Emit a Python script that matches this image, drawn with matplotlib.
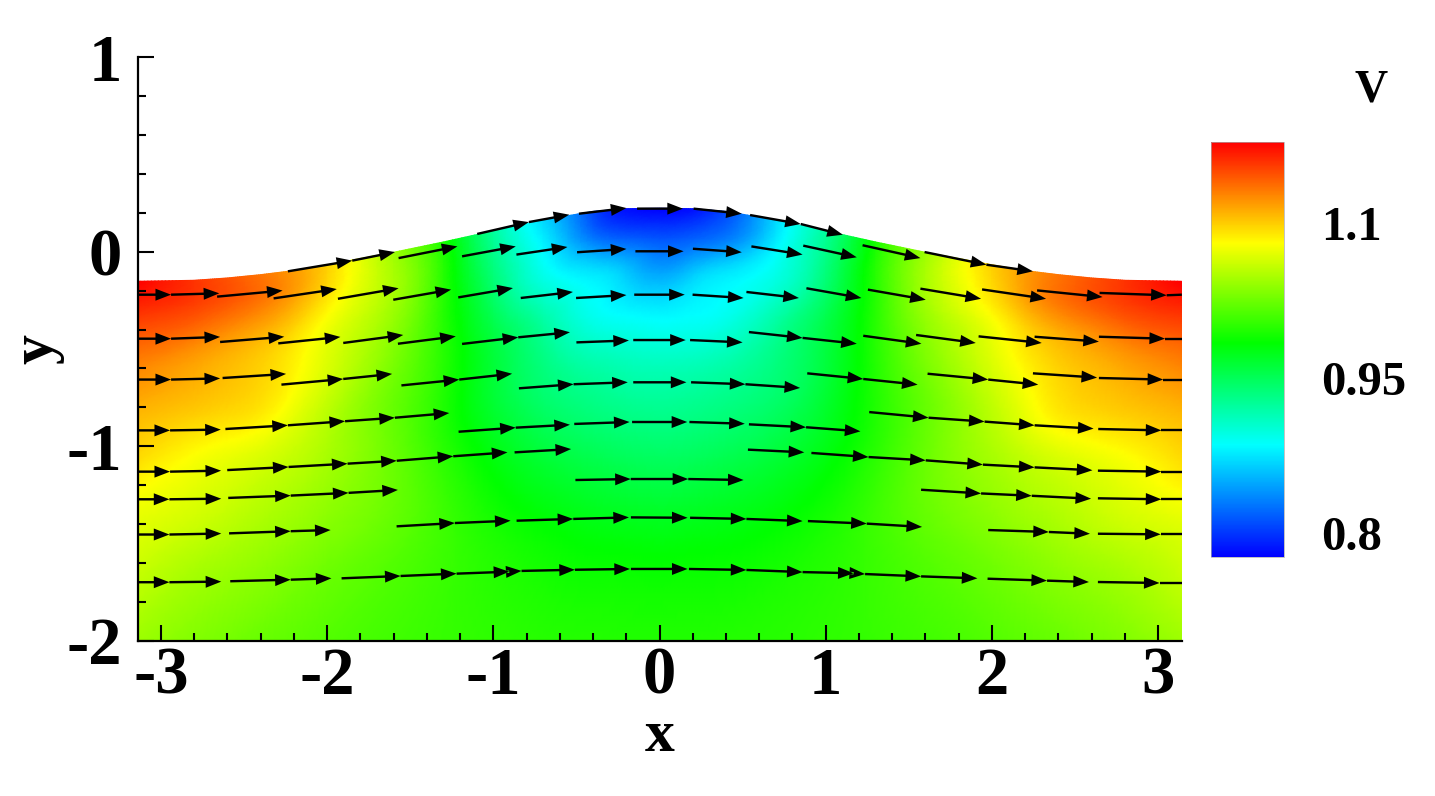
"""Free-surface velocity field: V contours with streamwise arrows."""
import numpy as np
import matplotlib
matplotlib.use("Agg")
import matplotlib.pyplot as plt
import matplotlib.tri as mtri
from matplotlib.colors import LinearSegmentedColormap, Normalize
from matplotlib.ticker import MultipleLocator
from matplotlib.transforms import ScaledTranslation

plt.rcParams["font.family"] = ["Liberation Serif", "DejaVu Serif"]
plt.rcParams["font.weight"] = "bold"
plt.rcParams["axes.unicode_minus"] = False

# columns from the left edge to the crest, the field is mirrored about x = 0
X_HALF = [-3.141, -2.8, -2.6, -2.4, -2.2, -2.0, -1.6, -1.3, -1.0, -0.7, -0.4, -0.2, 0.0]
SURFACE_HALF = [-0.152, -0.147, -0.135, -0.118, -0.097, -0.067, -0.003, 0.050, 0.107, 0.163, 0.207, 0.221, 0.223]
DEPTH = [0.0, 0.2, 0.35, 0.5, 0.62, 0.75, 0.85, 0.93, 1.0]   # fraction of local column height

V_BOTTOM = [1.045, 1.035, 1.030, 1.025, 1.021, 1.017, 1.010, 1.006, 1.003, 1.000, 0.999, 0.998, 0.998]
V_020 = [1.062, 1.050, 1.045, 1.040, 1.034, 1.028, 1.017, 1.008, 0.999, 0.992, 0.987, 0.986, 0.985]
V_035 = [1.074, 1.066, 1.060, 1.053, 1.047, 1.040, 1.025, 1.008, 0.990, 0.977, 0.968, 0.964, 0.962]
V_050 = [1.095, 1.080, 1.074, 1.068, 1.060, 1.050, 1.025, 1.000, 0.975, 0.955, 0.943, 0.938, 0.936]
V_062 = [1.108, 1.100, 1.096, 1.090, 1.075, 1.058, 1.025, 0.998, 0.965, 0.940, 0.925, 0.919, 0.917]
V_075 = [1.127, 1.115, 1.108, 1.100, 1.087, 1.070, 1.035, 1.000, 0.960, 0.925, 0.895, 0.888, 0.885]
V_085 = [1.146, 1.135, 1.125, 1.115, 1.100, 1.080, 1.045, 1.000, 0.945, 0.900, 0.880, 0.865, 0.850]
V_093 = [1.165, 1.155, 1.146, 1.135, 1.118, 1.095, 1.050, 1.000, 0.935, 0.885, 0.835, 0.820, 0.815]
V_SURFACE = [1.180, 1.160, 1.148, 1.135, 1.120, 1.100, 1.045, 0.995, 0.925, 0.872, 0.810, 0.785, 0.780]

V_MIN, V_MAX = 0.779, 1.18
CBAR_TICKS = [0.8, 0.95, 1.1]
CBAR_LABELS = ["0.8", "0.95", "1.1"]
CMAP_STOPS = [(0.0, "#0000ff"), (0.27, "#00ffff"), (0.516, "#00ff00"), (0.757, "#ffff00"), (1.0, "#ff0000")]

# streamtrace pieces, one arrow per consecutive pair of points
ROW_A = [
    [(-2.236, -0.101), (-1.849, -0.046), (-1.592, -0.002)],
    [(-1.097, 0.091), (-0.786, 0.152), (-0.543, 0.190)],
    [(-0.485, 0.195), (-0.199, 0.224)],
    [(-0.135, 0.221), (0.141, 0.221)],
    [(0.205, 0.221), (0.495, 0.195)],
    [(0.545, 0.188), (0.850, 0.142), (1.103, 0.087)],
    [(1.595, -0.002), (1.967, -0.067), (2.247, -0.101)],
]
ROW_B = [
    [(-1.570, -0.033), (-1.216, 0.027)],
    [(-1.188, -0.024), (-0.865, 0.027)],
    [(-0.861, -0.015), (-0.554, 0.024)],
    [(-0.496, -0.003), (-0.199, 0.014)],
    [(-0.145, 0.002), (0.145, 0.002)],
    [(0.201, 0.015), (0.495, -0.003)],
    [(0.553, 0.027), (0.861, -0.015)],
    [(0.865, 0.031), (1.187, -0.029)],
    [(1.222, 0.033), (1.570, -0.033)],
]
ROW_C = [
    [(-3.143, -0.221), (-2.939, -0.221), (-2.649, -0.214)],
    [(-2.662, -0.231), (-2.268, -0.200)],
    [(-2.322, -0.240), (-1.942, -0.192)],
    [(-1.935, -0.242), (-1.570, -0.188)],
    [(-1.602, -0.247), (-1.254, -0.195)],
    [(-1.211, -0.235), (-0.882, -0.187)],
    [(-0.835, -0.238), (-0.521, -0.207)],
    [(-0.502, -0.238), (-0.199, -0.223)],
    [(-0.152, -0.221), (0.152, -0.221)],
    [(0.199, -0.221), (0.506, -0.238)],
    [(0.523, -0.207), (0.839, -0.238)],
    [(0.884, -0.188), (1.215, -0.238)],
    [(1.254, -0.195), (1.602, -0.247)],
    [(1.570, -0.190), (1.935, -0.242)],
    [(1.941, -0.194), (2.326, -0.242)],
    [(2.272, -0.199), (2.666, -0.233)],
    [(2.648, -0.212), (3.052, -0.224), (3.143, -0.221)],
]
ROW_D = [
    [(-3.143, -0.447), (-2.939, -0.447), (-2.644, -0.438)],
    [(-2.644, -0.464), (-2.258, -0.437)],
    [(-2.294, -0.471), (-1.920, -0.438)],
    [(-1.903, -0.469), (-1.542, -0.428)],
    [(-1.574, -0.473), (-1.226, -0.435)],
    [(-1.188, -0.474), (-0.850, -0.440), (-0.539, -0.414)],
    [(-0.500, -0.466), (-0.184, -0.456)],
    [(-0.158, -0.454), (0.158, -0.454)],
    [(0.184, -0.454), (0.500, -0.466)],
    [(0.538, -0.413), (0.861, -0.443), (1.187, -0.473)],
    [(1.226, -0.432), (1.576, -0.473)],
    [(1.544, -0.428), (1.903, -0.469)],
    [(1.920, -0.435), (2.300, -0.469)],
    [(2.257, -0.437), (2.644, -0.462)],
    [(2.644, -0.437), (3.042, -0.447), (3.143, -0.447)],
]
ROW_E = [
    [(-3.143, -0.657), (-2.939, -0.657), (-2.644, -0.651)],
    [(-2.629, -0.649), (-2.247, -0.628)],
    [(-2.275, -0.683), (-1.903, -0.654), (-1.609, -0.628)],
    [(-1.553, -0.687), (-1.205, -0.657), (-0.887, -0.627)],
    [(-0.846, -0.702), (-0.517, -0.681), (-0.191, -0.671)],
    [(-0.158, -0.671), (0.162, -0.671)],
    [(0.190, -0.671), (0.517, -0.681), (0.846, -0.700)],
    [(0.889, -0.625), (1.226, -0.654), (1.553, -0.683)],
    [(1.613, -0.627), (1.978, -0.657), (2.279, -0.683)],
    [(2.247, -0.625), (2.633, -0.647)],
    [(2.644, -0.649), (3.031, -0.657), (3.143, -0.657)],
]
ROW_F = [
    [(-3.143, -0.918), (-2.945, -0.918), (-2.640, -0.914)],
    [(-2.612, -0.911), (-2.236, -0.892), (-1.892, -0.871), (-1.592, -0.853), (-1.265, -0.829)],
    [(-1.209, -0.925), (-0.865, -0.904), (-0.539, -0.889)],
    [(-0.513, -0.885), (-0.180, -0.875)],
    [(-0.165, -0.875), (0.167, -0.875)],
    [(0.180, -0.875), (0.513, -0.884)],
    [(0.538, -0.887), (0.882, -0.902), (1.209, -0.923)],
    [(1.262, -0.824), (1.619, -0.853), (1.956, -0.873), (2.257, -0.892), (2.612, -0.909)],
    [(2.640, -0.911), (3.020, -0.918), (3.143, -0.918)],
]
ROW_G = [
    [(-3.143, -1.130), (-2.945, -1.130), (-2.638, -1.125)],
    [(-2.601, -1.122), (-2.232, -1.106), (-1.877, -1.089), (-1.581, -1.074), (-1.241, -1.051), (-0.915, -1.031)],
    [(-0.872, -1.031), (-0.532, -1.014)],
    [(-0.506, -1.173), (-0.173, -1.168), (0.173, -1.168), (0.506, -1.173)],
    [(0.532, -1.017), (0.871, -1.031)],
    [(0.914, -1.034), (1.258, -1.055), (1.602, -1.072), (1.946, -1.094), (2.257, -1.108), (2.605, -1.123)],
    [(2.638, -1.125), (3.020, -1.130), (3.143, -1.130)],
]
ROW_H = [
    [(-3.143, -1.272), (-2.949, -1.272), (-2.637, -1.269)],
    [(-2.595, -1.265), (-2.219, -1.253), (-1.871, -1.239), (-1.574, -1.224)],
    [(1.574, -1.223), (1.935, -1.242), (2.240, -1.254), (2.597, -1.269)],
    [(2.638, -1.267), (3.020, -1.272), (3.143, -1.272)],
]
ROW_I = [
    [(-3.143, -1.453), (-2.949, -1.453), (-2.637, -1.448)],
    [(-2.590, -1.447), (-2.219, -1.436), (-1.979, -1.430)],
    [(-1.582, -1.411), (-1.231, -1.394), (-0.896, -1.382)],
    [(-0.860, -1.382), (-0.519, -1.373), (-0.184, -1.365)],
    [(-0.172, -1.365), (0.169, -1.367)],
    [(0.184, -1.367), (0.523, -1.373), (0.861, -1.384)],
    [(0.893, -1.384), (1.247, -1.397), (1.580, -1.414)],
    [(1.978, -1.430), (2.343, -1.440), (2.590, -1.449)],
    [(2.638, -1.449), (3.016, -1.452), (3.143, -1.452)],
]
ROW_J = [
    [(-3.143, -1.698), (-2.949, -1.698), (-2.637, -1.695)],
    [(-2.583, -1.693), (-2.219, -1.685), (-1.974, -1.678)],
    [(-1.913, -1.678), (-1.558, -1.666), (-1.221, -1.654), (-0.904, -1.644), (-0.830, -1.640),
     (-0.509, -1.634), (-0.178, -1.630)],
    [(-0.172, -1.630), (0.169, -1.630)],
    [(0.177, -1.630), (0.523, -1.635), (0.861, -1.646), (1.168, -1.652), (1.237, -1.656),
     (1.574, -1.668), (1.913, -1.678)],
    [(1.974, -1.680), (2.332, -1.690), (2.584, -1.697)],
    [(2.638, -1.697), (3.009, -1.702), (3.143, -1.702)],
]
STREAM_ROWS = [ROW_A, ROW_B, ROW_C, ROW_D, ROW_E, ROW_F, ROW_G, ROW_H, ROW_I, ROW_J]

# ---- field on a terrain-following mesh ----
v_half = np.array([V_BOTTOM, V_020, V_035, V_050, V_062, V_075, V_085, V_093, V_SURFACE])
v_field = np.hstack([v_half, v_half[:, -2::-1]])
x_col = np.array(X_HALF + [-x for x in X_HALF[-2::-1]])
surface = np.array(SURFACE_HALF + SURFACE_HALF[-2::-1])
depth = np.array(DEPTH)

xx = np.tile(x_col, (len(depth), 1))
yy = -2.0 + np.outer(depth, surface + 2.0)

nrow, ncol = xx.shape
idx = np.arange(nrow * ncol).reshape(nrow, ncol)
lower = np.column_stack([idx[:-1, :-1].ravel(), idx[:-1, 1:].ravel(), idx[1:, 1:].ravel()])
upper = np.column_stack([idx[:-1, :-1].ravel(), idx[1:, 1:].ravel(), idx[1:, :-1].ravel()])
tri = mtri.Triangulation(xx.ravel(), yy.ravel(), np.vstack([lower, upper]))
tri_fine, v_fine = mtri.UniformTriRefiner(tri).refine_field(v_field.ravel(), subdiv=4)

cmap = LinearSegmentedColormap.from_list("tecplot_rainbow", CMAP_STOPS, N=512)
norm = Normalize(V_MIN, V_MAX)

fig = plt.figure(figsize=(14.35, 7.96), dpi=100)
ax = fig.add_axes([137.5 / 1435, 155 / 796, 1044 / 1435, 584 / 796])
ax.tripcolor(tri_fine, v_fine, shading="gouraud", cmap=cmap, norm=norm, zorder=1)

# ---- arrows ----
arrow_x, arrow_y, arrow_u, arrow_v = [], [], [], []
for row in STREAM_ROWS:
    for piece in row:
        pts = np.array(piece)
        if pts[-1, 0] > 3.1:  # last stretch runs out of the domain without a head
            ax.plot(pts[-2:, 0], pts[-2:, 1], color="black", lw=1.7, solid_capstyle="butt", zorder=3)
            pts = pts[:-1]
        arrow_x.extend(pts[:-1, 0])
        arrow_y.extend(pts[:-1, 1])
        arrow_u.extend(np.diff(pts[:, 0]))
        arrow_v.extend(np.diff(pts[:, 1]))

ax.quiver(arrow_x, arrow_y, arrow_u, arrow_v, angles="xy", scale_units="xy", scale=1,
          units="dots", width=2.4, headwidth=5, headlength=6.5, headaxislength=6.5,
          minshaft=0.1, minlength=0, color="black", zorder=3)

# ---- axes ----
ax.set_xlim(-3.141, 3.141)
ax.set_ylim(-2, 1)
ax.spines["top"].set_visible(False)
ax.spines["right"].set_visible(False)
ax.spines["left"].set_linewidth(1.6)
ax.spines["bottom"].set_linewidth(1.6)
ax.set_xticks([-3, -2, -1, 0, 1, 2, 3])
ax.set_yticks([-2, -1, 0, 1])
ax.xaxis.set_minor_locator(MultipleLocator(0.2))
ax.yaxis.set_minor_locator(MultipleLocator(0.2))
ax.tick_params(which="major", direction="in", length=11.5, width=1.5, labelsize=48)
ax.tick_params(which="minor", direction="in", length=6, width=1.5)
ax.tick_params(axis="x", which="major", pad=4)
ax.tick_params(axis="y", which="major", pad=11)
ax.set_xlabel("x", fontsize=43, fontweight="bold", labelpad=2)
ax.set_ylabel("y", fontsize=43, fontweight="bold", va="center")
ax.yaxis.set_label_coords(-0.096, 0.5)

# ---- colorbar ----
cax = fig.add_axes([1211 / 1435, 239 / 796, 73 / 1435, 415 / 796])
sm = plt.cm.ScalarMappable(norm=norm, cmap=cmap)
cbar = fig.colorbar(sm, cax=cax, ticks=CBAR_TICKS)
cbar.ax.set_yticklabels(CBAR_LABELS, va="center")
cbar.ax.tick_params(length=0, pad=26.5, labelsize=35)
nudge = ScaledTranslation(0, -3 / 100, fig.dpi_scale_trans)
for label in cbar.ax.get_yticklabels():
    label.set_transform(label.get_transform() + nudge)
cbar.outline.set_linewidth(0.5)
cbar.outline.set_edgecolor("#aaaaaa")
fig.text(1371 / 1435, 1 - 90 / 796, "V", fontsize=33, fontweight="bold", ha="center", va="center")

fig.savefig("out.png", dpi=100)
plt.close(fig)
